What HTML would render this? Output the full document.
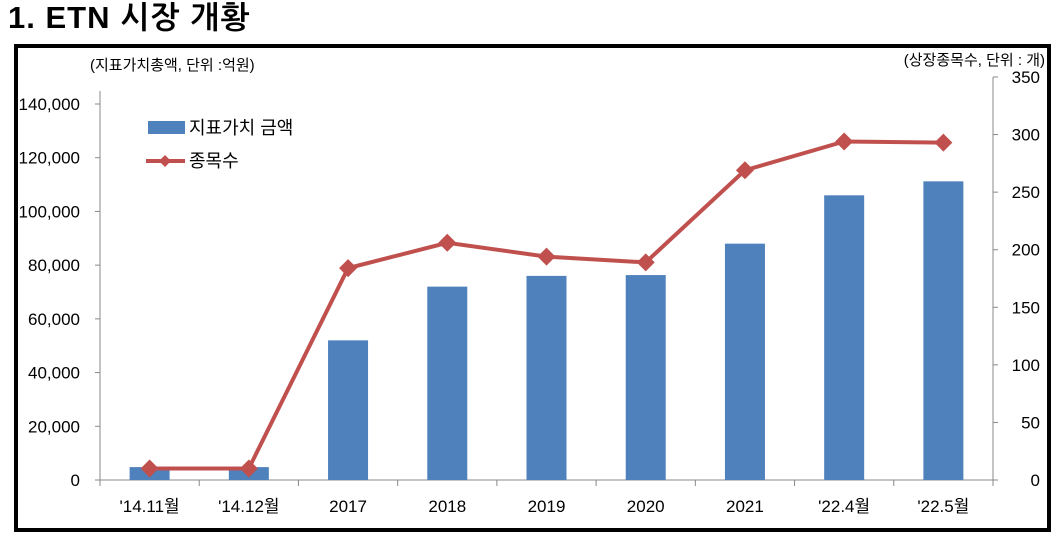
<!DOCTYPE html>
<html><head><meta charset="utf-8"><style>
body{margin:0;background:#fff;width:1062px;height:540px;overflow:hidden;font-family:"Liberation Sans","Noto Sans CJK KR",sans-serif}
</style></head><body>
<div style="position:absolute;left:8px;top:0px;font-size:31px;letter-spacing:1px;font-weight:bold;font-family:'Liberation Sans','NanumGothic','Noto Sans CJK KR',sans-serif">1. ETN 시장 개황</div>
<svg id="c" width="1062" height="540" style="position:absolute;left:0;top:0" font-family="Liberation Sans, Noto Sans CJK KR, sans-serif"></svg>
<script>
const categories=["'14.11월","'14.12월","2017","2018","2019","2020","2021","'22.4월","'22.5월"];
const barValues=[4800,4800,52000,72000,76000,76300,88000,106000,111200];
const lineValues=[10,10,184,206,194,189,269,294,293];
const leftTicks=[0,20000,40000,60000,80000,100000,120000,140000];
const rightTicks=[0,50,100,150,200,250,300,350];
const svg=document.getElementById('c'),NS='http://www.w3.org/2000/svg';
function mk(t,a,p){const e=document.createElementNS(NS,t);for(const k in a)e.setAttribute(k,a[k]);(p||svg).appendChild(e);return e;}
const X0=100,X1=993,Y0=480,Y1=104;
const yL=v=>Y0-v/140000*(Y0-Y1);
const yR=v=>Y0-v/350*(Y0-77);
const bw=(X1-X0)/categories.length;
const xC=i=>X0+bw*(i+0.5);
let e=mk('rect',{x:16,y:46,width:1033,height:484,fill:'none',stroke:'#000','stroke-width':4});

e=mk('line',{x1:X0,y1:Y1-13,x2:X0,y2:Y0,stroke:'#888'});
e=mk('line',{x1:X1,y1:77,x2:X1,y2:Y0,stroke:'#888'});
e=mk('line',{x1:X0,y1:Y0,x2:X1,y2:Y0,stroke:'#888'});
leftTicks.forEach(v=>{const y=yL(v);mk('line',{x1:X0-5,y1:y,x2:X0,y2:y,stroke:'#888'});
const t=mk('text',{x:80,y:y+6,'text-anchor':'end','font-size':17});t.textContent=v.toLocaleString('en-US');
});
rightTicks.forEach(v=>{const y=yR(v);mk('line',{x1:X1,y1:y,x2:X1+5,y2:y,stroke:'#888'});
const t=mk('text',{x:1040,y:y+6,'text-anchor':'end','font-size':17});t.textContent=v;
});
categories.forEach((c,i)=>{const x=X0+bw*i;mk('line',{x1:x,y1:Y0,x2:x,y2:Y0+6,stroke:'#888'});
const t=mk('text',{x:xC(i),y:512,'text-anchor':'middle','font-size':17});t.textContent=c;
});
mk('line',{x1:X1,y1:Y0,x2:X1,y2:Y0+6,stroke:'#888'});
barValues.forEach((v,i)=>{const b=mk('rect',{x:xC(i)-20,y:yL(v),width:40,height:Y0-yL(v),fill:'#4f81bd'});
});
e=mk('polyline',{points:lineValues.map((v,i)=>xC(i)+','+yR(v)).join(' '),fill:'none',stroke:'#c0504d','stroke-width':4});

lineValues.forEach((v,i)=>{const x=xC(i),y=yR(v);const p=mk('polygon',{points:`${x},${y-9} ${x+9},${y} ${x},${y+9} ${x-9},${y}`,fill:'#c0504d'});
});
function txt(x,y,s,sz,name,anchor){const t=mk('text',{x:x,y:y,'font-size':sz,'text-anchor':anchor||'start'});t.textContent=s;}
txt(90,70,'(지표가치총액, 단위 :억원)',15,'left-axis-title');
txt(1045,65,'(상장종목수, 단위 : 개)',15,'right-axis-title','end');
e=mk('rect',{x:148,y:121,width:37,height:13,fill:'#4f81bd'});
txt(189,134,'지표가치 금액',18,'legend-bar-label');
e=mk('line',{x1:146,y1:161,x2:185,y2:161,stroke:'#c0504d','stroke-width':4});
mk('polygon',{points:'165,155 171,161 165,167 159,161',fill:'#c0504d'});
txt(189,167,'종목수',18,'legend-line-label');
</script>
</body></html>
